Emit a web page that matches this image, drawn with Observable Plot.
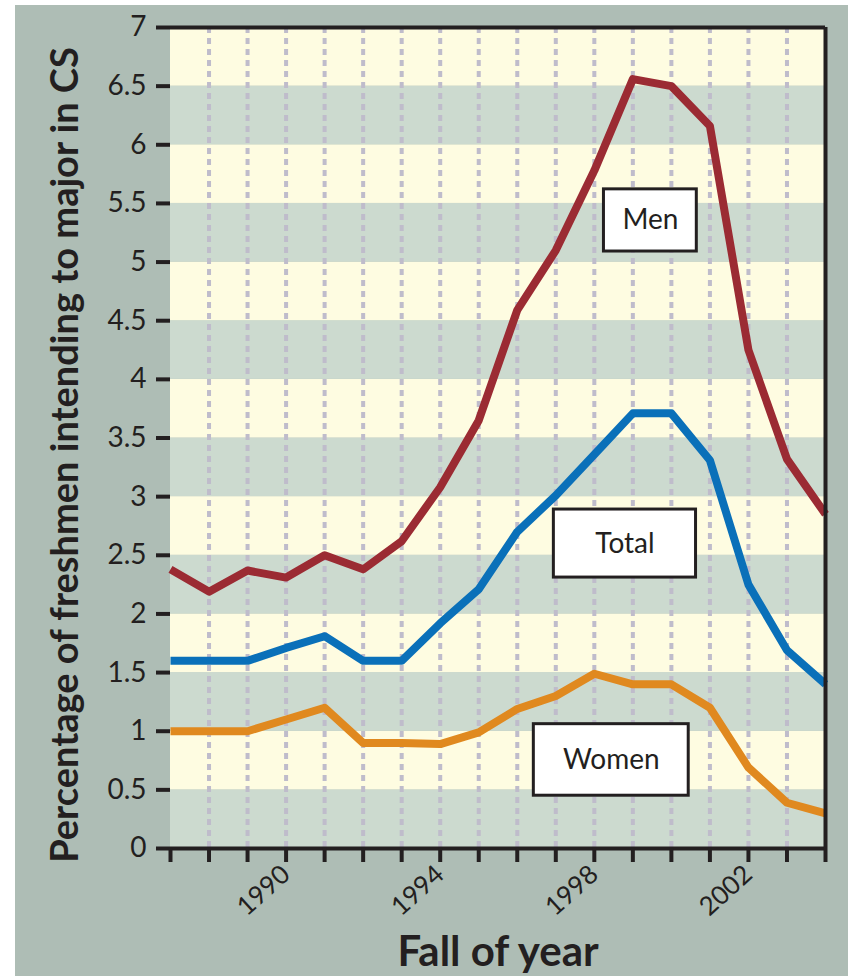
<!DOCTYPE html>
<html><head><meta charset="utf-8">
<script src="https://cdn.jsdelivr.net/npm/d3@7"></script>
<script src="https://cdn.jsdelivr.net/npm/@observablehq/plot@0.6"></script>
<style>
html,body{margin:0;padding:0;background:#fff;}
#bg{position:absolute;left:15px;top:5px;width:833px;height:971px;background:#aebdb5;}
#chart{position:absolute;left:0;top:0;}
</style></head><body><div id="bg"></div><div id="chart"></div>
<script>
const years = [1987,1988,1989,1990,1991,1992,1993,1994,1995,1996,1997,1998,1999,2000,2001,2002,2003,2004];
const men   = [2.38,2.19,2.37,2.31,2.50,2.38,2.62,3.08,3.65,4.59,5.10,5.78,6.56,6.50,6.16,4.25,3.32,2.85];
const total = [1.60,1.60,1.60,1.71,1.81,1.60,1.60,1.92,2.21,2.70,3.01,3.36,3.71,3.71,3.31,2.25,1.69,1.40];
const women = [1.00,1.00,1.00,1.10,1.20,0.90,0.90,0.89,0.99,1.19,1.30,1.49,1.40,1.40,1.20,0.69,0.39,0.30];
const yTicks = [0,0.5,1,1.5,2,2.5,3,3.5,4,4.5,5,5.5,6,6.5,7];
const xTickLabels = [1990,1994,1998,2002];
const seriesNames = ["Men","Total","Women"];
const seriesColors = ["#9b2b33","#0a70b9","#e0891f"];
const labelBoxes = [
  {name:"Men",   x1:1998.25, x2:2000.66, y1:5.09, y2:5.62},
  {name:"Total", x1:1996.95, x2:2000.64, y1:2.31, y2:2.89},
  {name:"Women", x1:1996.43, x2:2000.45, y1:0.45, y2:1.06}
];
const xTitle = "Fall of year";
const yTitle = "Percentage of freshmen intending to major in CS";

const dark = "#231f20";
const bandGreen = "#ccdacf", bandYellow = "#fefce1";
const bands = yTicks.slice(0,-1).map((v,i) => ({y1:v, y2:yTicks[i+1], even:i%2===0}));
const table = [men,total,women].flatMap((vals,si) => vals.map((v,i) => ({series:seriesNames[si], year:years[i], value:v})));

const plot = Plot.plot({
  width: 848, height: 976,
  marginLeft: 170, marginRight: 23, marginTop: 27, marginBottom: 128,
  style: {background:"transparent", fontFamily:"Lato, sans-serif", color:dark, overflow:"visible"},
  x: {domain:[1987,2004], axis:null},
  y: {domain:[0,7], axis:null},
  color: {domain:seriesNames, range:seriesColors},
  marks: [
    Plot.rect(bands, {y1:"y1", y2:"y2", fill: d => d.even ? bandGreen : bandYellow}),
    Plot.ruleX(years.slice(1,-1), {stroke:"#bfbccb", strokeWidth:4, strokeDasharray:"6,5"}),
    Plot.line(table, {x:"year", y:"value", z:"series", stroke:"series", strokeWidth:8, strokeLinejoin:"round", strokeLinecap:"butt"}),
    Plot.rect(labelBoxes, {x1:"x1", x2:"x2", y1:"y1", y2:"y2", fill:"white", stroke:dark, strokeWidth:3}),
    Plot.text(labelBoxes, {x: d => (d.x1+d.x2)/2, y: d => (d.y1+d.y2)/2, text:"name", fontSize:28, fill:dark}),
    Plot.ruleY([0,7], {stroke:dark, strokeWidth:4}),
    Plot.ruleX([2004], {stroke:dark, strokeWidth:4}),
    Plot.axisY(yTicks, {tickSize:14, tickPadding:10, tickFormat: d => String(d), fontSize:28, stroke:dark, strokeWidth:4, fill:dark}),
    Plot.axisX(years, {tickSize:14, tickFormat: () => "", stroke:dark, strokeWidth:4}),
    Plot.axisX(xTickLabels, {tickSize:0, tickPadding:22, tickRotate:-42, tickFormat: d => String(d), fontSize:26, fill:dark}),
    Plot.text([yTitle], {frameAnchor:"left", textAnchor:"middle", rotate:-90, dx:-105, dy:17, text: d => d, fontSize:38, fontWeight:"bold", fill:dark}),
    Plot.text([xTitle], {frameAnchor:"bottom", dy:117, text: d => d, fontSize:42, fontWeight:"bold", fill:dark})
  ]
});
document.getElementById("chart").appendChild(plot);
</script></body></html>
